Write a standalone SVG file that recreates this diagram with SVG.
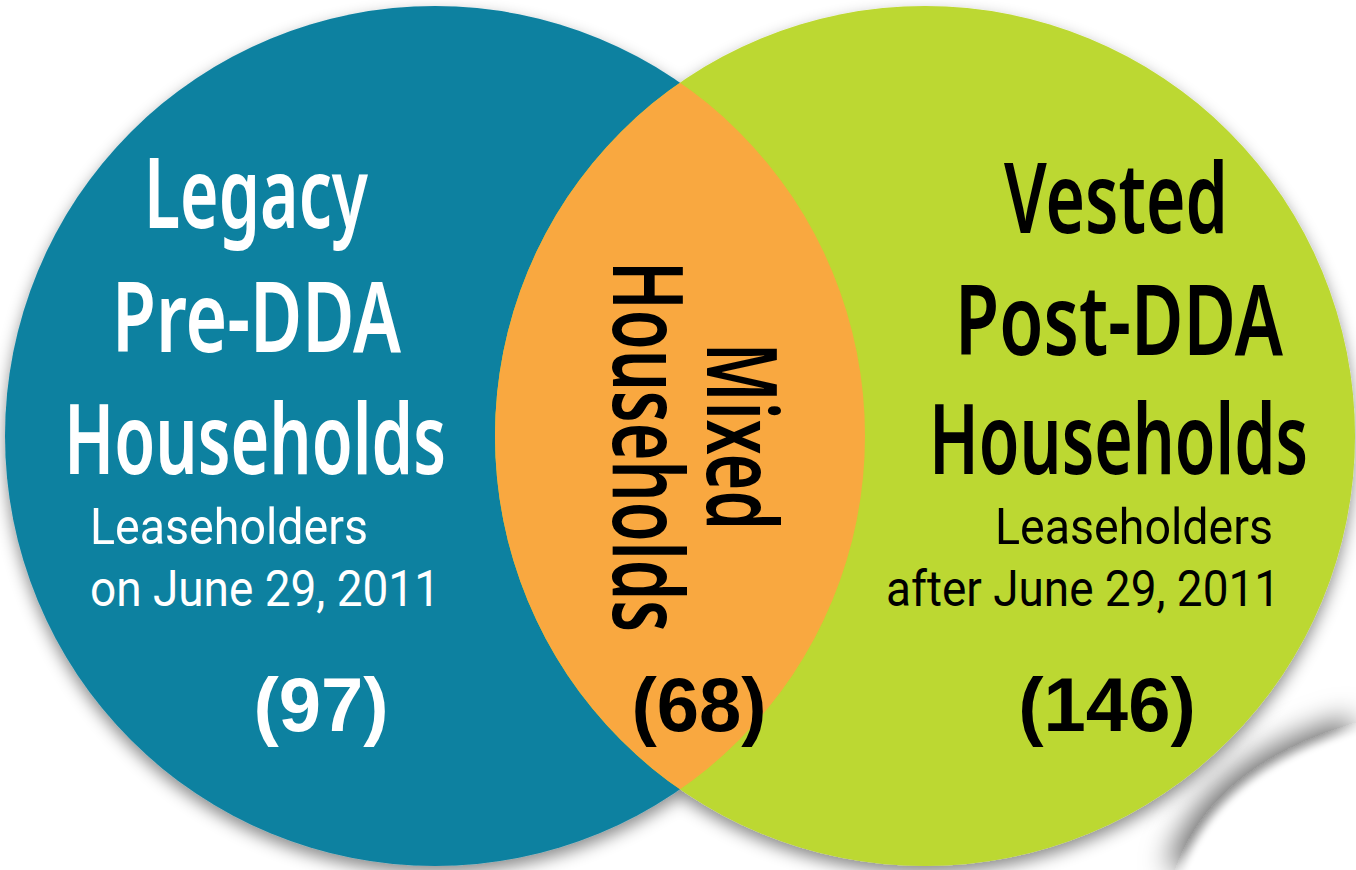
<svg xmlns="http://www.w3.org/2000/svg" width="1356" height="870" viewBox="0 0 1356 870">
  <style>
    .title { font-family: "Noto Sans", "Liberation Sans", sans-serif; font-weight: 600; font-size: 98px; }
    .sub { font-family: Roboto, "Liberation Sans", sans-serif; font-weight: 400; font-size: 50px; }
    .count { font-family: "Liberation Sans", Arial, sans-serif; font-weight: 700; font-size: 76px; text-anchor: middle; }
    .light { fill: #ffffff; }
    .dark { fill: #000000; }
  </style>
  <defs>
    <filter id="circleShadow" x="-10%" y="-10%" width="120%" height="125%">
      <feDropShadow dx="0" dy="7" stdDeviation="8" flood-color="#000" flood-opacity="0.45"/>
    </filter>
    <filter id="curlShadow" x="-40%" y="-40%" width="180%" height="180%">
      <feGaussianBlur in="SourceAlpha" stdDeviation="3" result="soft"/>
      <feGaussianBlur in="SourceAlpha" stdDeviation="14" result="wide"/>
      <feOffset in="wide" dx="-14" dy="-12" result="moved"/>
      <feFlood flood-color="#000" flood-opacity="0.55"/>
      <feComposite in2="moved" operator="in" result="shade"/>
      <feFlood flood-color="#fff"/>
      <feComposite in2="soft" operator="in" result="body"/>
      <feMerge>
        <feMergeNode in="shade"/>
        <feMergeNode in="body"/>
      </feMerge>
    </filter>
    <clipPath id="leftClip">
      <circle cx="435" cy="436" r="430"/>
    </clipPath>
  </defs>

  <rect width="1356" height="870" fill="#ffffff"/>

  <!-- folded corner, lying under the sets -->
  <path id="corner-curl" d="M1180,880 Q1215,770 1366,728 L1366,880 Z" fill="#ffffff" filter="url(#curlShadow)"/>

  <!-- the two sets and their overlap -->
  <g id="sets" filter="url(#circleShadow)">
    <g id="legacy-set"><circle cx="435" cy="436" r="430" fill="#0c81a0"/></g>
    <g id="vested-set"><circle cx="925" cy="436" r="430" fill="#bcd830"/></g>
    <g id="mixed-set"><circle cx="925" cy="436" r="430" fill="#f9a83f" clip-path="url(#leftClip)"/></g>
  </g>

  <!-- labels of the left set -->
  <g id="legacy-labels" class="light">
    <text class="title" x="256" y="228" text-anchor="middle" textLength="224" lengthAdjust="spacingAndGlyphs">Legacy</text>
    <text class="title" x="256.5" y="352" text-anchor="middle" textLength="289" lengthAdjust="spacingAndGlyphs">Pre-DDA</text>
    <text class="title" x="255" y="474" text-anchor="middle" textLength="382" lengthAdjust="spacingAndGlyphs">Households</text>
    <text class="sub" x="90" y="544" textLength="278" lengthAdjust="spacingAndGlyphs">Leaseholders</text>
    <text class="sub" x="90" y="606" textLength="350" lengthAdjust="spacingAndGlyphs">on June 29, 2011</text>
    <text class="count" x="321" y="731">(97)</text>
  </g>

  <!-- labels of the overlap -->
  <g id="mixed-labels" class="dark">
    <g transform="translate(707,436.5) rotate(90)">
      <text class="title" x="0" y="0" text-anchor="middle" font-size="100" textLength="187" lengthAdjust="spacingAndGlyphs">Mixed</text>
    </g>
    <g transform="translate(613,446.5) rotate(90)">
      <text class="title" x="0" y="0" text-anchor="middle" font-size="100" textLength="371" lengthAdjust="spacingAndGlyphs">Households</text>
    </g>
    <text class="count" x="699" y="731">(68)</text>
  </g>

  <!-- labels of the right set -->
  <g id="vested-labels" class="dark">
    <text class="title" x="1116" y="233" text-anchor="middle" textLength="224" lengthAdjust="spacingAndGlyphs">Vested</text>
    <text class="title" x="1119" y="355" text-anchor="middle" textLength="328" lengthAdjust="spacingAndGlyphs">Post-DDA</text>
    <text class="title" x="1118.5" y="474" text-anchor="middle" textLength="379" lengthAdjust="spacingAndGlyphs">Households</text>
    <text class="sub" x="995" y="544" textLength="278" lengthAdjust="spacingAndGlyphs">Leaseholders</text>
    <text class="sub" x="886" y="606" textLength="394" lengthAdjust="spacingAndGlyphs">after June 29, 2011</text>
    <text class="count" x="1107" y="731">(146)</text>
  </g>
</svg>
